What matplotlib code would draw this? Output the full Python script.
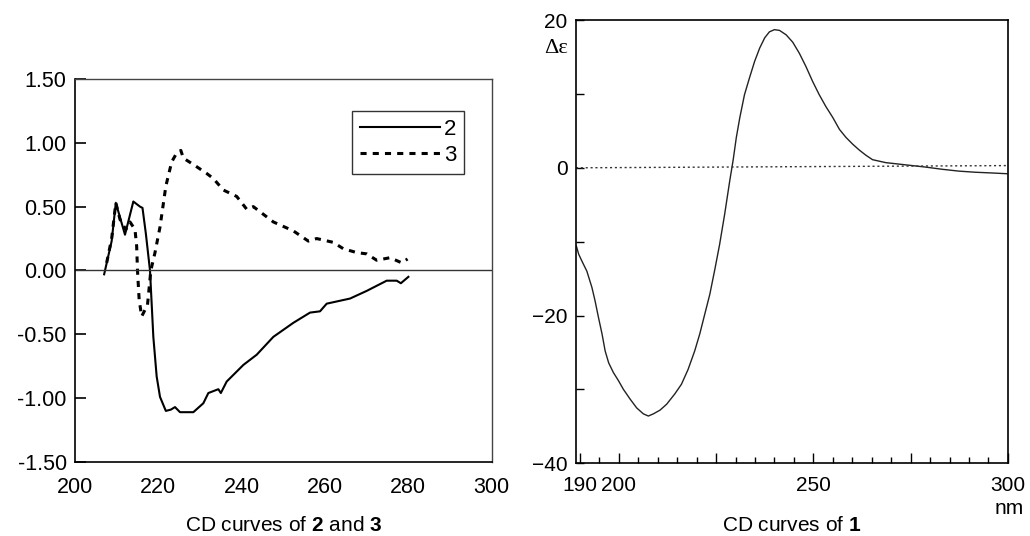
import matplotlib
matplotlib.use("Agg")
import matplotlib.pyplot as plt
from matplotlib.ticker import MultipleLocator, FixedLocator

plt.rcParams['font.family'] = ['Liberation Sans', 'DejaVu Sans']
plt.rcParams['mathtext.fontset'] = 'custom'
plt.rcParams['mathtext.rm'] = 'Liberation Sans'
plt.rcParams['mathtext.bf'] = 'Liberation Sans:bold'

# Left panel: CD curves of 2 and 3
wl2 = [207.0, 208.8, 209.8, 212.0, 214.0, 215.6, 216.2, 217.0, 218.0, 218.8, 219.6, 220.4,
       221.8, 223.0, 224.0, 225.2, 228.4, 230.8, 232.0, 234.4, 235.0, 236.4, 240.4, 243.6,
       247.6, 252.4, 256.4, 258.8, 260.4, 266.0, 270.0, 274.8, 277.2, 278.2, 280.0]
cd2 = [-0.03, 0.23, 0.53, 0.28, 0.54, 0.50, 0.49, 0.29, 0.00, -0.52, -0.83, -0.99,
       -1.10, -1.09, -1.07, -1.11, -1.11, -1.04, -0.96, -0.93, -0.96, -0.87, -0.74, -0.66,
       -0.52, -0.41, -0.33, -0.32, -0.26, -0.22, -0.16, -0.08, -0.08, -0.10, -0.05]

wl3 = [207.6, 208.8, 209.8, 210.8, 212.2, 213.2, 214.4, 214.8, 215.0, 215.4, 216.0, 217.4,
       218.2, 219.2, 220.4, 221.8, 223.2, 224.4, 225.4, 226.0, 228.4, 231.6, 233.2, 235.6,
       238.8, 241.2, 242.8, 247.6, 252.4, 256.0, 258.0, 262.0, 264.4, 267.6, 270.0, 272.4,
       275.6, 278.4, 279.8]
cd3 = [0.06, 0.25, 0.53, 0.40, 0.32, 0.38, 0.32, 0.19, 0.00, -0.23, -0.36, -0.27,
       0.00, 0.14, 0.34, 0.66, 0.85, 0.92, 0.94, 0.88, 0.83, 0.76, 0.72, 0.63,
       0.58, 0.48, 0.50, 0.38, 0.31, 0.23, 0.25, 0.22, 0.17, 0.14, 0.13, 0.08,
       0.10, 0.06, 0.09]

left_yticks = [-1.5, -1.0, -0.5, 0.0, 0.5, 1.0, 1.5]
left_xticks = [200, 220, 240, 260, 280, 300]

# Right panel: CD curve of 1
wl1 = [189.1, 189.7, 190.5, 191.8, 193.1, 193.9, 194.8, 195.7, 196.5, 197.4, 198.6, 199.9,
       201.2, 202.9, 204.6, 206.3, 207.6, 208.9, 210.6, 212.3, 214.4, 216.1, 217.8, 219.5,
       220.8, 222.1, 223.4, 224.7, 225.9, 227.2, 228.5, 229.4, 230.2, 231.1, 232.3, 233.6,
       234.9, 236.2, 237.5, 238.7, 240.0, 241.3, 243.0, 244.7, 246.4, 248.1, 249.8, 251.5,
       253.2, 255.0, 256.7, 258.4, 260.1, 261.8, 263.5, 265.2, 266.9, 268.6, 270.3, 272.0,
       273.7, 275.4, 277.1, 278.8, 283.1, 287.4, 291.6, 295.9, 299.7]
cd1 = [-10.6, -11.7, -12.6, -14.0, -16.2, -18.0, -20.3, -22.5, -24.8, -26.4, -27.7, -28.8,
       -30.0, -31.3, -32.5, -33.3, -33.6, -33.3, -32.8, -32.0, -30.6, -29.3, -27.3, -24.8,
       -22.5, -19.8, -17.1, -13.7, -10.4, -6.3, -1.8, 1.1, 4.1, 6.8, 9.9, 12.2,
       14.4, 16.2, 17.6, 18.4, 18.7, 18.6, 18.0, 17.0, 15.5, 13.7, 11.7, 9.9,
       8.3, 6.8, 5.2, 4.1, 3.2, 2.4, 1.7, 1.1, 0.9, 0.7, 0.6, 0.5,
       0.4, 0.3, 0.2, 0.1, -0.2, -0.45, -0.6, -0.7, -0.8]
base_wl = [189.0, 300.0]
base_cd = [0.0, 0.3]

right_xticks = [190, 200, 225, 250, 275, 300]
right_xticklabels = ['190', '200', '', '250', '', '300']
right_yticks = [-40, -20, 0, 20]

fig = plt.figure(figsize=(10.3, 5.36), dpi=100)

# ---------- left ----------
ax1 = fig.add_axes([0.0728, 0.1381, 0.4046, 0.7146])
ax1.plot(wl2, cd2, color='black', lw=1.5, label='2')
ax1.plot(wl3, cd3, color='black', lw=2.2, ls=(0, (2.0, 2.0)), label='3')
ax1.axhline(0, color='#333333', lw=1.0)
ax1.set_xlim(200, 300)
ax1.set_ylim(-1.5, 1.5)
ax1.set_yticks(left_yticks)
ax1.set_yticklabels(['%.2f' % v for v in left_yticks])
ax1.set_xticks(left_xticks)
ax1.tick_params(axis='y', direction='in', length=8, width=1.2, labelsize=15.5, pad=6)
ax1.tick_params(axis='x', length=0, labelsize=15.5, pad=11)
for s in ['top', 'right']:
    ax1.spines[s].set_color('#444444')
    ax1.spines[s].set_linewidth(1.0)
for s in ['left', 'bottom']:
    ax1.spines[s].set_linewidth(1.2)
leg = ax1.legend(loc='upper right', bbox_to_anchor=(0.934, 0.917), borderaxespad=0,
                 fontsize=16, frameon=True, fancybox=False, edgecolor='black',
                 handlelength=3.6, handletextpad=0.2, borderpad=0.35, labelspacing=0.25)
leg.get_frame().set_linewidth(1.0)
fig.text(0.0728 + 0.4046 / 2, 0.02, r'CD curves of $\mathbf{2}$ and $\mathbf{3}$',
         ha='center', va='center', fontsize=15)

# ---------- right ----------
ax2 = fig.add_axes([0.5592, 0.1356, 0.4194, 0.827])
ax2.plot(wl1, cd1, color='#222222', lw=1.0)
ax2.plot(base_wl, base_cd, color='#333333', lw=1.0, ls=(0, (1.5, 2.0)))
ax2.set_xlim(189, 300)
ax2.set_ylim(-40, 20)
ax2.xaxis.set_major_locator(FixedLocator(right_xticks))
ax2.set_xticklabels(right_xticklabels)
ax2.xaxis.set_minor_locator(MultipleLocator(5))
ax2.set_yticks(right_yticks)
ax2.yaxis.set_minor_locator(MultipleLocator(10))
ax2.tick_params(axis='x', which='major', direction='in', length=7, width=1.0, labelsize=15, pad=9)
ax2.tick_params(axis='x', which='minor', direction='in', length=4, width=1.0)
ax2.tick_params(axis='y', which='major', direction='in', length=6, width=1.0, labelsize=15, pad=6)
ax2.tick_params(axis='y', which='minor', direction='in', length=6, width=1.0)
for s in ax2.spines.values():
    s.set_linewidth(1.2)
ax2.set_yticklabels(['\u221240', '\u221220', '0', '20'])
ax2.text(-0.018, 0.935, '\u0394\u03b5', transform=ax2.transAxes, ha='right', va='center',
         fontsize=16, family=['Liberation Serif', 'DejaVu Serif'])
ax2.text(1.003, -0.101, 'nm', transform=ax2.transAxes, ha='center', va='center', fontsize=15)
fig.text(0.5592 + 0.4194 / 2, 0.02, r'CD curves of $\mathbf{1}$',
         ha='center', va='center', fontsize=15)

fig.savefig('out.png', dpi=100)
